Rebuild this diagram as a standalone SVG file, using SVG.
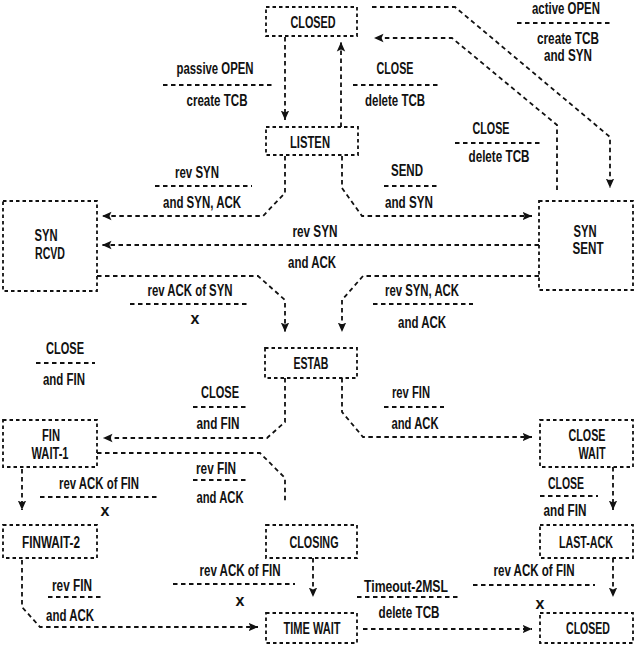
<svg xmlns="http://www.w3.org/2000/svg" width="637" height="648" viewBox="0 0 637 648">
<style>
.box{fill:none;stroke:#111;stroke-width:1.8;stroke-dasharray:3.5 3}
.ln{fill:none;stroke:#111;stroke-width:1.8;stroke-dasharray:4.5 3.5}
.dv{fill:none;stroke:#111;stroke-width:1.8;stroke-dasharray:4.5 3.5}
.t{font-family:"Liberation Sans",Arial,sans-serif;font-weight:bold;font-size:16px;fill:#111;text-anchor:middle}
</style>
<defs>
<marker id="ah" markerUnits="userSpaceOnUse" markerWidth="10" markerHeight="10" viewBox="0 0 10 10" refX="9.5" refY="5" orient="auto">
<path d="M0,0.8 L9.5,5 L0,9.2 L2,5 z" fill="#111"/>
</marker>
</defs>
<rect width="637" height="648" fill="#fff"/>

<g id="closed-top"><rect class="box" x="266" y="7" width="91" height="29"/><text class="t" x="313" y="28" textLength="45" lengthAdjust="spacingAndGlyphs">CLOSED</text></g>
<g id="listen"><rect class="box" x="266" y="127" width="92" height="28"/><text class="t" x="310" y="148" textLength="40" lengthAdjust="spacingAndGlyphs">LISTEN</text></g>
<g id="syn-rcvd"><rect class="box" x="3" y="201" width="94" height="90"/><text class="t" x="46" y="241" textLength="23" lengthAdjust="spacingAndGlyphs">SYN</text><text class="t" x="50" y="259" textLength="30" lengthAdjust="spacingAndGlyphs">RCVD</text></g>
<g id="syn-sent"><rect class="box" x="539" y="201" width="94" height="89"/><text class="t" x="585" y="237" textLength="23" lengthAdjust="spacingAndGlyphs">SYN</text><text class="t" x="588" y="254" textLength="31" lengthAdjust="spacingAndGlyphs">SENT</text></g>
<g id="estab"><rect class="box" x="265" y="348" width="92" height="30"/><text class="t" x="311" y="369" textLength="35" lengthAdjust="spacingAndGlyphs">ESTAB</text></g>
<g id="fin-wait-1"><rect class="box" x="3" y="420" width="94" height="47"/><text class="t" x="51" y="441" textLength="18" lengthAdjust="spacingAndGlyphs">FIN</text><text class="t" x="50" y="459" textLength="37" lengthAdjust="spacingAndGlyphs">WAIT-1</text></g>
<g id="close-wait"><rect class="box" x="540" y="420" width="93" height="47"/><text class="t" x="587" y="441" textLength="37" lengthAdjust="spacingAndGlyphs">CLOSE</text><text class="t" x="592" y="459" textLength="27" lengthAdjust="spacingAndGlyphs">WAIT</text></g>
<g id="finwait-2"><rect class="box" x="3" y="525" width="94" height="33"/><text class="t" x="51" y="548" textLength="58" lengthAdjust="spacingAndGlyphs">FINWAIT-2</text></g>
<g id="closing"><rect class="box" x="266" y="525" width="91" height="33"/><text class="t" x="314" y="548" textLength="49" lengthAdjust="spacingAndGlyphs">CLOSING</text></g>
<g id="last-ack"><rect class="box" x="540" y="525" width="93" height="33"/><text class="t" transform="translate(586,548) scale(0.67,1)" x="0" y="0">LAST-ACK</text></g>
<g id="time-wait"><rect class="box" x="266" y="613" width="91" height="30"/><text class="t" x="312" y="634" textLength="57" lengthAdjust="spacingAndGlyphs">TIME WAIT</text></g>
<g id="closed-bottom"><rect class="box" x="540" y="613" width="93" height="30"/><text class="t" x="588" y="634" textLength="44" lengthAdjust="spacingAndGlyphs">CLOSED</text></g>

<g id="connectors">
<path class="ln" d="M285,37 V120" marker-end="url(#ah)"/>
<path class="ln" d="M341,127 V42" marker-end="url(#ah)"/>
<path class="ln" d="M372,7 H455 L610,137 V188" marker-end="url(#ah)"/>
<path class="ln" d="M557,190 V125 L452,38 H374" marker-end="url(#ah)"/>
<path class="ln" d="M285,156 V193 L263,216 H102" marker-end="url(#ah)"/>
<path class="ln" d="M342,156 V188 L362,216 H532" marker-end="url(#ah)"/>
<path class="ln" d="M539,245 H102" marker-end="url(#ah)"/>
<path class="ln" d="M97,276 H258 L285,300 V332" marker-end="url(#ah)"/>
<path class="ln" d="M539,276 H363 L342,300 V332" marker-end="url(#ah)"/>
<path class="ln" d="M285,378 V422 L267,438 H103" marker-end="url(#ah)"/>
<path class="ln" d="M97,453 H260 L285,478 V503"/>
<path class="ln" d="M342,378 V412 L363,437 H532" marker-end="url(#ah)"/>
<path class="ln" d="M22,469 V510" marker-end="url(#ah)"/>
<path class="ln" d="M613,467 V510" marker-end="url(#ah)"/>
<path class="ln" d="M22,560 V607 L40,627 H258" marker-end="url(#ah)"/>
<path class="ln" d="M313,558 V597" marker-end="url(#ah)"/>
<path class="ln" d="M613,558 V597" marker-end="url(#ah)"/>
<path class="ln" d="M363,629 H532" marker-end="url(#ah)"/>
</g>

<g id="labels">
<path class="dv" d="M163,85 H272 M353,85 H440 M517,23 H613 M455,143 H543 M155,186 H252 M384,186 H438 M130,304 H250 M373,304 H473 M36,363 H95 M193,407 H247 M384,407 H444 M193,480 H247 M40,497 H160 M540,496 H598 M48,597 H102 M173,584 H295 M473,585 H595 M357,597 H460"/>
<text class="t" x="215" y="74" textLength="77" lengthAdjust="spacingAndGlyphs">passive OPEN</text>
<text class="t" x="217" y="106" textLength="61" lengthAdjust="spacingAndGlyphs">create TCB</text>
<text class="t" x="395" y="74" textLength="37" lengthAdjust="spacingAndGlyphs">CLOSE</text>
<text class="t" x="395" y="106" textLength="60" lengthAdjust="spacingAndGlyphs">delete TCB</text>
<text class="t" x="566" y="14" textLength="68" lengthAdjust="spacingAndGlyphs">active OPEN</text>
<text class="t" x="568" y="44" textLength="62" lengthAdjust="spacingAndGlyphs">create TCB</text>
<text class="t" x="568" y="61" textLength="48" lengthAdjust="spacingAndGlyphs">and SYN</text>
<text class="t" x="491" y="134" textLength="37" lengthAdjust="spacingAndGlyphs">CLOSE</text>
<text class="t" x="499" y="162" textLength="61" lengthAdjust="spacingAndGlyphs">delete TCB</text>
<text class="t" x="407" y="176" textLength="32" lengthAdjust="spacingAndGlyphs">SEND</text>
<text class="t" x="409" y="208" textLength="48" lengthAdjust="spacingAndGlyphs">and SYN</text>
<text class="t" x="197" y="178" textLength="44" lengthAdjust="spacingAndGlyphs">rev SYN</text>
<text class="t" x="202" y="208" textLength="78" lengthAdjust="spacingAndGlyphs">and SYN, ACK</text>
<text class="t" x="315" y="237" textLength="45" lengthAdjust="spacingAndGlyphs">rev SYN</text>
<text class="t" x="312" y="268" textLength="48" lengthAdjust="spacingAndGlyphs">and ACK</text>
<text class="t" x="190" y="296" textLength="85" lengthAdjust="spacingAndGlyphs">rev ACK of SYN</text>
<text class="t" x="195" y="324">x</text>
<text class="t" x="422" y="296" textLength="74" lengthAdjust="spacingAndGlyphs">rev SYN, ACK</text>
<text class="t" x="422" y="328" textLength="48" lengthAdjust="spacingAndGlyphs">and ACK</text>
<text class="t" x="65" y="354" textLength="38" lengthAdjust="spacingAndGlyphs">CLOSE</text>
<text class="t" x="64" y="385" textLength="42" lengthAdjust="spacingAndGlyphs">and FIN</text>
<text class="t" x="220" y="398" textLength="38" lengthAdjust="spacingAndGlyphs">CLOSE</text>
<text class="t" x="218" y="429" textLength="43" lengthAdjust="spacingAndGlyphs">and FIN</text>
<text class="t" x="411" y="398" textLength="38" lengthAdjust="spacingAndGlyphs">rev FIN</text>
<text class="t" x="415" y="429" textLength="47" lengthAdjust="spacingAndGlyphs">and ACK</text>
<text class="t" x="216" y="474" textLength="40" lengthAdjust="spacingAndGlyphs">rev FIN</text>
<text class="t" x="220" y="503" textLength="47" lengthAdjust="spacingAndGlyphs">and ACK</text>
<text class="t" x="99" y="489" textLength="80" lengthAdjust="spacingAndGlyphs">rev ACK of FIN</text>
<text class="t" x="105" y="516">x</text>
<text class="t" x="566" y="489" textLength="36" lengthAdjust="spacingAndGlyphs">CLOSE</text>
<text class="t" x="565" y="516" textLength="43" lengthAdjust="spacingAndGlyphs">and FIN</text>
<text class="t" x="240" y="576" textLength="81" lengthAdjust="spacingAndGlyphs">rev ACK of FIN</text>
<text class="t" x="240" y="606">x</text>
<text class="t" x="534" y="576" textLength="81" lengthAdjust="spacingAndGlyphs">rev ACK of FIN</text>
<text class="t" x="540" y="609">x</text>
<text class="t" x="72" y="591" textLength="40" lengthAdjust="spacingAndGlyphs">rev FIN</text>
<text class="t" x="70" y="621" textLength="48" lengthAdjust="spacingAndGlyphs">and ACK</text>
<text class="t" x="406" y="592" textLength="84" lengthAdjust="spacingAndGlyphs">Timeout-2MSL</text>
<text class="t" x="409" y="618" textLength="61" lengthAdjust="spacingAndGlyphs">delete TCB</text>
</g>
</svg>
